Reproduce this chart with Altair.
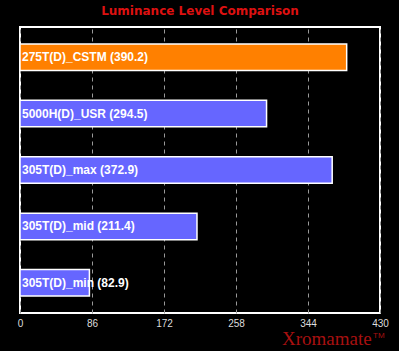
import altair as alt
import pandas as pd

names = ["275T(D)_CSTM", "5000H(D)_USR", "305T(D)_max", "305T(D)_mid", "305T(D)_min"]
values = [390.2, 294.5, 372.9, 211.4, 82.9]
colors = ["#ff8000", "#6666ff", "#6666ff", "#6666ff", "#6666ff"]
ticks = [0, 86, 172, 258, 344, 430]

df = pd.DataFrame({
    "name": names,
    "value": values,
    "color": colors,
    "label": [f"{n} ({v})" for n, v in zip(names, values)],
})

x = alt.X("value:Q", scale=alt.Scale(domain=[0, 430], nice=False, zero=True),
          axis=alt.Axis(values=ticks, title=None, domain=False, ticks=False,
                        labelColor="#dddddd", labelFont="Liberation Sans", labelFontSize=10,
                        labelPadding=5, grid=True, gridColor="#999999", gridDash=[4, 4],
                        gridWidth=1, labelFlush=False))
y = alt.Y("name:N", sort=None, scale=alt.Scale(paddingInner=0.53, paddingOuter=0.3),
          axis=None)

base = alt.Chart(df)
bars = base.mark_bar(stroke="white", strokeWidth=1.5).encode(
    x=x, y=y, color=alt.Color("color:N", scale=None))
labels = base.mark_text(align="left", baseline="middle", dx=0, color="white",
                        font="Liberation Sans", fontWeight="bold", fontSize=12).encode(
    x=alt.value(2), y=y, text="label:N")

wm = alt.Chart(pd.DataFrame({"t": ["Xromamate"]})).mark_text(
    align="left", baseline="alphabetic", color="#a81010", font="Liberation Serif",
    fontSize=19).encode(x=alt.value(262), y=alt.value(318), text="t:N")
tm = alt.Chart(pd.DataFrame({"t": ["TM"]})).mark_text(
    align="left", baseline="alphabetic", color="#a81010", font="Liberation Sans",
    fontSize=8).encode(x=alt.value(353), y=alt.value(311), text="t:N")

chart = alt.layer(bars, labels, wm, tm).properties(
    width=360, height=286,
    autosize=alt.AutoSizeParams(type="none"),
    padding={"left": 20, "top": 27, "right": 19, "bottom": 38},
    background="black",
    title=alt.TitleParams("Luminance Level Comparison", color="#dd1111",
                          font="DejaVu Sans", fontSize=12, fontWeight="bold",
                          offset=9, anchor="middle"),
).configure_view(stroke="white", strokeWidth=2)

chart.save("out.html", embed_options={"renderer": "svg", "actions": False})
